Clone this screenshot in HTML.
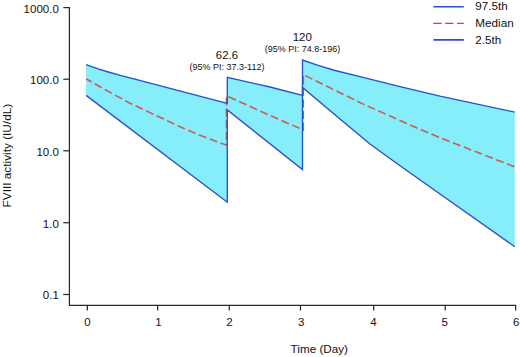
<!DOCTYPE html>
<html><head><meta charset="utf-8"><title>FVIII activity</title>
<style>
html,body{margin:0;padding:0;background:#fff;}
svg{display:block}
text{font-family:"Liberation Sans",Arial,sans-serif;fill:#111}
</style></head><body>
<svg width="520" height="357" viewBox="0 0 520 357">
<rect width="520" height="357" fill="#fff"/>
<polygon points="86.1,64.6 98.0,68.8 110.0,72.5 122.0,75.8 134.0,78.9 150.0,83.1 227.3,103.4 227.3,77.3 270.0,87.0 302.5,95.4 302.5,60.0 318.0,65.4 335.0,70.5 360.0,76.7 400.0,86.6 440.0,96.2 514.8,112.1 514.8,246.8 440.0,194.0 400.0,165.8 370.0,144.0 340.0,119.0 302.5,87.5 302.5,169.5 227.3,110.0 227.3,202.2 86.1,95.4" fill="#86eefa"/>
<polyline points="86.1,78.8 106.2,90.3 130.0,103.2 150.0,112.6 180.0,126.7 199.3,135.0 226.5,145.2 226.5,95.8 265.0,113.3 303.3,130.0 303.3,74.7 362.8,103.9 409.3,124.7 440.0,137.7 514.8,166.9" fill="none" stroke="#cc5a52" stroke-width="1.6" stroke-dasharray="8 3.6" stroke-dashoffset="1.6"/>
<polyline points="86.1,64.6 98.0,68.8 110.0,72.5 122.0,75.8 134.0,78.9 150.0,83.1 227.3,103.4 227.3,77.3 270.0,87.0 302.5,95.4 302.5,60.0 318.0,65.4 335.0,70.5 360.0,76.7 400.0,86.6 440.0,96.2 514.8,112.1" fill="none" stroke="#2551cb" stroke-width="1.35" stroke-linejoin="miter"/>
<polyline points="86.1,95.4 227.3,202.2 227.3,110.0 302.5,169.5 302.5,87.5 340.0,119.0 370.0,144.0 400.0,165.8 440.0,194.0 514.8,246.8" fill="none" stroke="#2551cb" stroke-width="1.35" stroke-linejoin="miter"/>
<g stroke="#2a2a2a" stroke-width="1.25" fill="none">
<path d="M69.4 6.98V305.3H516.2"/>
<path d="M63.3 7.6H69.4"/><path d="M63.3 79.2H69.4"/><path d="M63.3 150.8H69.4"/><path d="M63.3 222.7H69.4"/><path d="M63.3 294.5H69.4"/><path d="M87.35 305.3V310.5"/><path d="M157.6 305.3V310.5"/><path d="M229.3 305.3V310.5"/><path d="M300.5 305.3V310.5"/><path d="M373.7 305.3V310.5"/><path d="M445.2 305.3V310.5"/><path d="M515.6 305.3V310.5"/>
</g>
<g font-size="11.5">
<text x="58.8" y="12.5" text-anchor="end">1000.0</text>
<text x="58.8" y="84.1" text-anchor="end">100.0</text>
<text x="58.8" y="155.7" text-anchor="end">10.0</text>
<text x="58.8" y="227.6" text-anchor="end">1.0</text>
<text x="58.8" y="299.4" text-anchor="end">0.1</text>
<text x="87.4" y="326.2" text-anchor="middle">0</text>
<text x="158.4" y="326.2" text-anchor="middle">1</text>
<text x="229.4" y="326.2" text-anchor="middle">2</text>
<text x="301.3" y="326.2" text-anchor="middle">3</text>
<text x="373.5" y="326.2" text-anchor="middle">4</text>
<text x="444.6" y="326.2" text-anchor="middle">5</text>
<text x="516.3" y="326.2" text-anchor="middle">6</text>
<text x="319.3" y="352.6" text-anchor="middle" font-size="11.7">Time (Day)</text>
<text transform="translate(11.1 155.6) rotate(-90)" text-anchor="middle" font-size="11.8">FVIII activity (IU/dL)</text>
<text x="227.0" y="58.5" text-anchor="middle">62.6</text>
<text x="302.3" y="40.8" text-anchor="middle">120</text>
<text x="475.3" y="10.4" font-size="11.7">97.5th</text>
<text x="475.3" y="27.2" font-size="11.7">Median</text>
<text x="475.3" y="43.6" font-size="11.7">2.5th</text>
</g>
<g font-size="9">
<text x="227.0" y="70.3" text-anchor="middle">(95% PI: 37.3-112)</text>
<text x="302.5" y="51.5" text-anchor="middle">(95% PI: 74.8-196)</text>
</g>
<path d="M433.4 6.8H463.8M433.4 39.9H463.8" stroke="#2551cb" stroke-width="1.6" fill="none"/>
<path d="M433.4 23.3H463.8" stroke="#e8344c" stroke-width="1.3" stroke-dasharray="8.3 3.5" fill="none"/>
</svg>
</body></html>
